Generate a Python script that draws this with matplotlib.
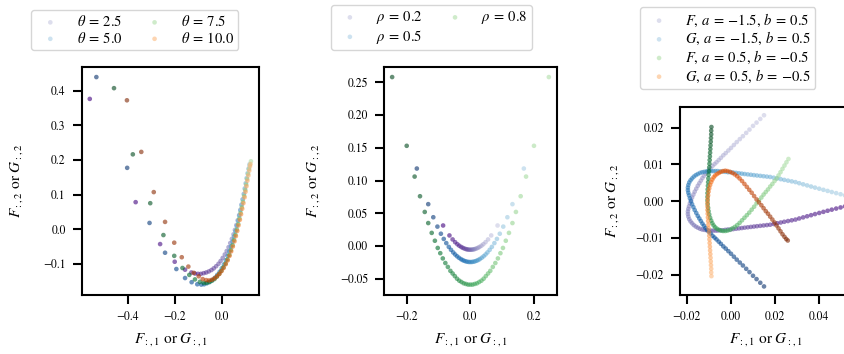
import numpy as np
import matplotlib
matplotlib.use("Agg")
import matplotlib.pyplot as plt

plt.rcParams.update({
    "font.family": "STIXGeneral",
    "mathtext.fontset": "stix",
    "axes.linewidth": 1.5,
    "xtick.major.width": 1.5,
    "ytick.major.width": 1.5,
    "xtick.major.size": 6.5,
    "ytick.major.size": 6.5,
    "xtick.major.pad": 5,
    "ytick.major.pad": 5,
    "xtick.labelsize": 8.5,
    "ytick.labelsize": 8.5,
    "axes.labelsize": 11,
    "legend.fontsize": 10.5,
})

# ---- panel 1: theta (points listed left -> right, dark -> light)
theta_labels = [r"$\theta\:=\:2.5$", r"$\theta\:=\:5.0$", r"$\theta\:=\:7.5$", r"$\theta\:=\:10.0$"]
th25_x = [-0.562, -0.367, -0.263, -0.201, -0.157, -0.130, -0.115, -0.102, -0.090, -0.078,
          -0.067, -0.056, -0.045, -0.035, -0.025, -0.015, -0.006, 0.003, 0.012, 0.020,
          0.028, 0.035, 0.042, 0.049, 0.055, 0.061, 0.067, 0.073, 0.078, 0.083,
          0.088, 0.093, 0.097, 0.101, 0.105, 0.109, 0.113, 0.116]
th25_y = [0.376, 0.078, -0.043, -0.094, -0.117, -0.125, -0.128, -0.129, -0.129, -0.127,
          -0.125, -0.122, -0.118, -0.113, -0.107, -0.100, -0.092, -0.083, -0.073, -0.063,
          -0.052, -0.040, -0.028, -0.015, -0.002, 0.012, 0.026, 0.041, 0.056, 0.071,
          0.086, 0.101, 0.116, 0.131, 0.146, 0.160, 0.173, 0.184]
th50_x = [-0.534, -0.403, -0.308, -0.242, -0.194, -0.157, -0.129, -0.105, -0.088, -0.076,
          -0.064, -0.052, -0.041, -0.030, -0.020, -0.010, -0.001, 0.008, 0.016, 0.024,
          0.031, 0.038, 0.045, 0.051, 0.057, 0.063, 0.068, 0.073, 0.078, 0.083,
          0.088, 0.093, 0.097, 0.101, 0.105, 0.109, 0.113, 0.117]
th50_y = [0.439, 0.177, 0.018, -0.068, -0.115, -0.141, -0.153, -0.159, -0.160, -0.159,
          -0.156, -0.152, -0.147, -0.140, -0.132, -0.123, -0.113, -0.102, -0.090, -0.077,
          -0.064, -0.050, -0.036, -0.021, -0.006, 0.009, 0.024, 0.039, 0.054, 0.070,
          0.086, 0.102, 0.118, 0.133, 0.148, 0.162, 0.175, 0.188]
th75_x = [-0.459, -0.379, -0.305, -0.249, -0.203, -0.168, -0.139, -0.115, -0.094, -0.078,
          -0.066, -0.054, -0.043, -0.032, -0.022, -0.012, -0.003, 0.006, 0.015, 0.023,
          0.031, 0.038, 0.045, 0.051, 0.057, 0.063, 0.069, 0.074, 0.079, 0.084,
          0.089, 0.094, 0.099, 0.103, 0.107, 0.111, 0.115, 0.119, 0.123]
th75_y = [0.407, 0.216, 0.075, -0.017, -0.077, -0.112, -0.132, -0.145, -0.152, -0.155,
          -0.155, -0.153, -0.149, -0.144, -0.137, -0.129, -0.120, -0.110, -0.099, -0.087,
          -0.074, -0.060, -0.046, -0.031, -0.016, -0.001, 0.015, 0.031, 0.047, 0.063,
          0.079, 0.096, 0.113, 0.129, 0.145, 0.160, 0.174, 0.186, 0.196]
th100_x = [-0.404, -0.343, -0.290, -0.242, -0.203, -0.171, -0.143, -0.120, -0.099, -0.082,
           -0.067, -0.055, -0.043, -0.032, -0.021, -0.011, -0.002, 0.007, 0.016, 0.024,
           0.032, 0.039, 0.046, 0.053, 0.059, 0.065, 0.070, 0.076, 0.081, 0.086,
           0.091, 0.096, 0.100, 0.104, 0.108, 0.112, 0.116, 0.119, 0.121]
th100_y = [0.372, 0.223, 0.107, 0.021, -0.039, -0.081, -0.108, -0.126, -0.136, -0.144,
           -0.147, -0.148, -0.146, -0.142, -0.136, -0.129, -0.121, -0.112, -0.101, -0.090,
           -0.077, -0.064, -0.050, -0.035, -0.020, -0.005, 0.011, 0.027, 0.043, 0.059,
           0.075, 0.092, 0.108, 0.124, 0.140, 0.155, 0.169, 0.181, 0.188]

# ---- panel 2: rho (left -> right, dark -> light)
rho_labels = [r"$\rho\:=\:0.2$", r"$\rho\:=\:0.5$", r"$\rho\:=\:0.8$"]
rho02_x = [-0.086, -0.066, -0.056, -0.048, -0.041, -0.035, -0.029, -0.024, -0.019, -0.014,
           -0.010, -0.006, -0.002, 0.002, 0.006, 0.010, 0.014, 0.019, 0.024, 0.029,
           0.035, 0.041, 0.048, 0.056, 0.066, 0.086]
rho02_y = [0.0313, 0.0161, 0.0100, 0.0058, 0.0027, 0.0004, -0.0015, -0.0028, -0.0039, -0.0047,
           -0.0052, -0.0055, -0.0057, -0.0057, -0.0055, -0.0052, -0.0047, -0.0039, -0.0028, -0.0015,
           0.0004, 0.0027, 0.0058, 0.0100, 0.0161, 0.0313]
rho05_x = [-0.169, -0.133, -0.117, -0.104, -0.093, -0.084, -0.076, -0.068, -0.061, -0.054,
           -0.048, -0.042, -0.036, -0.030, -0.025, -0.020, -0.015, -0.010, -0.005, 0.000,
           0.005, 0.010, 0.015, 0.020, 0.025, 0.030, 0.036, 0.042, 0.048, 0.054,
           0.061, 0.068, 0.076, 0.084, 0.093, 0.104, 0.117, 0.133, 0.169]
rho05_y = [0.1183, 0.0639, 0.0439, 0.0296, 0.0187, 0.0108, 0.0044, -0.0014, -0.0059, -0.0099,
           -0.0130, -0.0157, -0.0180, -0.0200, -0.0214, -0.0225, -0.0234, -0.0240, -0.0244, -0.0245,
           -0.0244, -0.0240, -0.0234, -0.0225, -0.0214, -0.0200, -0.0180, -0.0157, -0.0130, -0.0099,
           -0.0059, -0.0014, 0.0044, 0.0108, 0.0187, 0.0296, 0.0439, 0.0639, 0.1183]
rho08_x = [-0.247, -0.201, -0.176, -0.159, -0.144, -0.133, -0.122, -0.112, -0.103, -0.095,
           -0.087, -0.079, -0.071, -0.063, -0.056, -0.049, -0.042, -0.035, -0.028, -0.021,
           -0.014, -0.007, 0.000, 0.007, 0.014, 0.021, 0.028, 0.035, 0.042, 0.049,
           0.056, 0.063, 0.071, 0.079, 0.087, 0.095, 0.103, 0.112, 0.122, 0.133,
           0.144, 0.159, 0.176, 0.201, 0.248]
rho08_y = [0.258, 0.153, 0.106, 0.076, 0.052, 0.035, 0.020, 0.008, -0.003, -0.011,
           -0.019, -0.026, -0.032, -0.038, -0.042, -0.046, -0.050, -0.053, -0.055, -0.057,
           -0.058, -0.059, -0.059, -0.059, -0.058, -0.057, -0.055, -0.053, -0.050, -0.046,
           -0.042, -0.038, -0.032, -0.026, -0.019, -0.011, -0.003, 0.008, 0.020, 0.035,
           0.052, 0.076, 0.106, 0.153, 0.258]

# ---- panel 3: (a, b) curves (listed light -> dark)
ab_labels = [r"$F,\,a\:=\:-1.5,\,b\:=\:0.5$", r"$G,\,a\:=\:-1.5,\,b\:=\:0.5$",
             r"$F,\,a\:=\:0.5,\,b\:=\:-0.5$", r"$G,\,a\:=\:0.5,\,b\:=\:-0.5$"]
f1_x = ([0.0152, 0.0135, 0.0118, 0.0102, 0.0086, 0.0071, 0.0056, 0.0042, 0.0028, 0.0015,
         0.0002, -0.0010, -0.0022, -0.0033, -0.0044, -0.0054, -0.0064, -0.0073, -0.0082, -0.0091,
         -0.0099, -0.0107]
        + [-0.0114, -0.0121, -0.0128, -0.0135, -0.0142, -0.0149, -0.0156, -0.0163, -0.0169, -0.0175,
           -0.0180, -0.0185, -0.0189, -0.0192, -0.0194, -0.0194, -0.0192, -0.0188, -0.0182, -0.0175,
           -0.0167, -0.0158, -0.0149, -0.0139, -0.0129, -0.0119, -0.0109, -0.0099, -0.0089, -0.0079,
           -0.0069, -0.0059]
        + [-0.0048, -0.0036, -0.0024, -0.0012, 0.0000, 0.0012, 0.0025, 0.0038, 0.0051, 0.0064,
           0.0078, 0.0092, 0.0106, 0.0120, 0.0135, 0.0150, 0.0165, 0.0180, 0.0196, 0.0212,
           0.0228, 0.0244, 0.0261, 0.0278, 0.0295, 0.0312, 0.0330, 0.0348, 0.0366, 0.0384,
           0.0403, 0.0422, 0.0441, 0.0460, 0.0480, 0.0500, 0.0520, 0.0540, 0.0560])
f1_y = ([0.0234, 0.0224, 0.0214, 0.0205, 0.0195, 0.0186, 0.0177, 0.0169, 0.0161, 0.0153,
         0.0145, 0.0138, 0.0131, 0.0125, 0.0118, 0.0112, 0.0106, 0.0101, 0.0096, 0.0090,
         0.0085, 0.0080]
        + [0.0075, 0.0069, 0.0063, 0.0056, 0.0049, 0.0042, 0.0034, 0.0026, 0.0018, 0.0010,
           0.0002, -0.0006, -0.0014, -0.0021, -0.0028, -0.0035, -0.0042, -0.0049, -0.0055, -0.0060,
           -0.0065, -0.0069, -0.0072, -0.0075, -0.0077, -0.0078, -0.0079, -0.0080, -0.0080, -0.0080,
           -0.0080, -0.0080]
        + [-0.0079, -0.0079, -0.0078, -0.0077, -0.0077, -0.0076, -0.0075, -0.0074, -0.0073, -0.0072,
           -0.0071, -0.0070, -0.0069, -0.0068, -0.0067, -0.0066, -0.0065, -0.0064, -0.0062, -0.0060,
           -0.0058, -0.0056, -0.0054, -0.0052, -0.0050, -0.0047, -0.0044, -0.0041, -0.0038, -0.0035,
           -0.0032, -0.0029, -0.0026, -0.0023, -0.0020, -0.0017, -0.0014, -0.0011, -0.0008])
g1_x = ([0.0560, 0.0540, 0.0520, 0.0500, 0.0480, 0.0460, 0.0441, 0.0422, 0.0403, 0.0384,
         0.0366, 0.0348, 0.0330, 0.0312, 0.0295, 0.0278, 0.0261, 0.0244, 0.0228, 0.0212,
         0.0196, 0.0180, 0.0165, 0.0150, 0.0135, 0.0120, 0.0106, 0.0092, 0.0078, 0.0064,
         0.0051, 0.0038, 0.0025, 0.0012, 0.0000, -0.0012, -0.0024, -0.0036, -0.0048]
        + [-0.0059, -0.0069, -0.0079, -0.0089, -0.0099, -0.0109, -0.0119, -0.0129, -0.0139, -0.0149,
           -0.0158, -0.0167, -0.0175, -0.0182, -0.0188, -0.0192, -0.0194, -0.0194, -0.0192, -0.0189,
           -0.0185, -0.0180, -0.0175, -0.0169, -0.0163, -0.0156, -0.0149, -0.0142, -0.0135, -0.0128,
           -0.0121, -0.0114]
        + [-0.0107, -0.0099, -0.0091, -0.0082, -0.0073, -0.0064, -0.0054, -0.0044, -0.0033, -0.0022,
           -0.0010, 0.0002, 0.0015, 0.0028, 0.0042, 0.0056, 0.0071, 0.0086, 0.0102, 0.0118,
           0.0135, 0.0152])
g1_y = ([0.0010, 0.0013, 0.0016, 0.0019, 0.0022, 0.0025, 0.0028, 0.0031, 0.0034, 0.0037,
         0.0040, 0.0043, 0.0046, 0.0049, 0.0052, 0.0054, 0.0056, 0.0058, 0.0060, 0.0062,
         0.0064, 0.0066, 0.0067, 0.0068, 0.0069, 0.0070, 0.0071, 0.0072, 0.0073, 0.0074,
         0.0075, 0.0076, 0.0077, 0.0078, 0.0079, 0.0079, 0.0080, 0.0081, 0.0081]
        + [0.0082, 0.0082, 0.0082, 0.0082, 0.0081, 0.0081, 0.0080, 0.0079, 0.0077, 0.0074,
           0.0071, 0.0067, 0.0062, 0.0057, 0.0051, 0.0044, 0.0037, 0.0030, 0.0023, 0.0016,
           0.0008, 0.0000, -0.0008, -0.0016, -0.0024, -0.0032, -0.0040, -0.0047, -0.0054, -0.0061,
           -0.0067, -0.0073]
        + [-0.0078, -0.0083, -0.0088, -0.0094, -0.0099, -0.0104, -0.0110, -0.0116, -0.0123, -0.0129,
           -0.0136, -0.0143, -0.0151, -0.0159, -0.0167, -0.0175, -0.0184, -0.0193, -0.0203, -0.0212,
           -0.0222, -0.0232])
f2_x = [0.0263, 0.0254, 0.0245, 0.0236, 0.0227, 0.0218, 0.0209, 0.0200, 0.0190, 0.0180,
        0.0170, 0.0160, 0.0150, 0.0140, 0.0129, 0.0118, 0.0107, 0.0096, 0.0085, 0.0074,
        0.0063, 0.0052, 0.0041, 0.0030, 0.0019, 0.0008, -0.0003, -0.0014, -0.0024, -0.0034,
        -0.0044, -0.0053, -0.0062, -0.0070, -0.0077, -0.0083, -0.0088, -0.0093, -0.0097, -0.0100,
        -0.0102, -0.0104, -0.0105, -0.0105, -0.0105, -0.0104, -0.0103, -0.0102, -0.0101, -0.0100,
        -0.0098, -0.0097, -0.0096, -0.0095, -0.0094, -0.0093, -0.0092, -0.0091, -0.0090, -0.0089,
        -0.0088, -0.0088, -0.0087]
f2_y = [0.0115, 0.0106, 0.0097, 0.0088, 0.0079, 0.0070, 0.0062, 0.0055, 0.0047, 0.0040,
        0.0032, 0.0025, 0.0018, 0.0010, 0.0002, -0.0006, -0.0015, -0.0023, -0.0031, -0.0038,
        -0.0045, -0.0052, -0.0059, -0.0065, -0.0070, -0.0074, -0.0078, -0.0080, -0.0081, -0.0081,
        -0.0080, -0.0078, -0.0075, -0.0071, -0.0066, -0.0060, -0.0053, -0.0045, -0.0036, -0.0027,
        -0.0018, -0.0008, 0.0002, 0.0012, 0.0022, 0.0032, 0.0042, 0.0052, 0.0062, 0.0072,
        0.0082, 0.0092, 0.0102, 0.0112, 0.0122, 0.0132, 0.0142, 0.0152, 0.0162, 0.0172,
        0.0182, 0.0192, 0.0202]
g2_x = [-0.0087, -0.0088, -0.0088, -0.0089, -0.0090, -0.0091, -0.0092, -0.0093, -0.0094, -0.0095,
        -0.0096, -0.0097, -0.0098, -0.0100, -0.0101, -0.0102, -0.0103, -0.0104, -0.0105, -0.0105,
        -0.0105, -0.0104, -0.0102, -0.0100, -0.0097, -0.0093, -0.0088, -0.0083, -0.0077, -0.0070,
        -0.0062, -0.0053, -0.0044, -0.0034, -0.0024, -0.0014, -0.0003, 0.0008, 0.0019, 0.0030,
        0.0041, 0.0052, 0.0063, 0.0074, 0.0085, 0.0096, 0.0107, 0.0118, 0.0129, 0.0140,
        0.0150, 0.0160, 0.0170, 0.0180, 0.0190, 0.0200, 0.0209, 0.0218, 0.0227, 0.0236,
        0.0245, 0.0253, 0.0260]
g2_y = [-0.0204, -0.0194, -0.0184, -0.0174, -0.0164, -0.0154, -0.0144, -0.0134, -0.0124, -0.0114,
        -0.0104, -0.0094, -0.0084, -0.0074, -0.0064, -0.0054, -0.0044, -0.0034, -0.0024, -0.0014,
        -0.0004, 0.0006, 0.0016, 0.0026, 0.0035, 0.0044, 0.0052, 0.0059, 0.0065, 0.0070,
        0.0074, 0.0077, 0.0080, 0.0082, 0.0083, 0.0082, 0.0080, 0.0077, 0.0073, 0.0068,
        0.0062, 0.0055, 0.0047, 0.0039, 0.0031, 0.0023, 0.0014, 0.0005, -0.0003, -0.0011,
        -0.0019, -0.0027, -0.0034, -0.0042, -0.0050, -0.0058, -0.0066, -0.0074, -0.0082, -0.0090,
        -0.0097, -0.0103, -0.0107]

cmaps = ["Purples", "Blues", "Greens", "Oranges"]


def dots(ax, x, y, cmap, label):
    n = len(x)
    cols = plt.get_cmap(cmap)(np.linspace(0.33, 1.0, n))
    ax.scatter(x, y, c=cols, s=11, alpha=0.6, linewidths=0, label=label)


fig = plt.figure(figsize=(8.45, 3.54), dpi=100)
ax1 = fig.add_axes([0.0967, 0.1667, 0.2098, 0.6449])
ax2 = fig.add_axes([0.4548, 0.1667, 0.2040, 0.6449])
ax3 = fig.add_axes([0.8047, 0.1667, 0.2036, 0.5319])

theta_x = [th25_x, th50_x, th75_x, th100_x]
theta_y = [th25_y, th50_y, th75_y, th100_y]
for xs, ys, cm, lab in zip(theta_x, theta_y, cmaps, theta_labels):
    dots(ax1, xs[::-1], ys[::-1], cm, lab)

rho_x = [rho02_x, rho05_x, rho08_x]
rho_y = [rho02_y, rho05_y, rho08_y]
for xs, ys, cm, lab in zip(rho_x, rho_y, cmaps, rho_labels):
    dots(ax2, xs[::-1], ys[::-1], cm, lab)

ab_x = [f1_x, g1_x, f2_x, g2_x]
ab_y = [f1_y, g1_y, f2_y, g2_y]
for xs, ys, cm, lab in zip(ab_x, ab_y, cmaps, ab_labels):
    dots(ax3, xs, ys, cm, lab)

ax1.set_xticks([-0.4, -0.2, 0.0])
ax1.set_yticks([-0.1, 0.0, 0.1, 0.2, 0.3, 0.4])
ax2.set_xticks([-0.2, 0.0, 0.2])
ax2.set_yticks([-0.05, 0.0, 0.05, 0.10, 0.15, 0.20, 0.25])
ax3.set_xlim(-0.0230, 0.0552)
ax3.set_xticks([-0.02, 0.0, 0.02, 0.04])
ax3.set_yticks([-0.02, -0.01, 0.0, 0.01, 0.02])

ylab_x = [-0.320, -0.360, -0.343]
xlab_y = [-0.160, -0.160, -0.194]
for ax, yx, xy in zip((ax1, ax2, ax3), ylab_x, xlab_y):
    ax.set_xlabel(r"$F_{:,1}$ or $G_{:,1}$")
    ax.set_ylabel(r"$F_{:,2}$ or $G_{:,2}$")
    ax.yaxis.set_label_coords(yx, 0.5)
    ax.xaxis.set_label_coords(0.5, xy)

leg_kw = dict(loc="lower center", borderaxespad=0, borderpad=0.3, columnspacing=1.2)
ax1.legend(bbox_to_anchor=(0.30, 1.073), ncol=2, labelspacing=0.1, **leg_kw)
ax2.legend(bbox_to_anchor=(0.274, 1.073), ncol=2, labelspacing=0.1, **leg_kw)
ax3.legend(bbox_to_anchor=(0.278, 1.094), ncol=1, labelspacing=0.1, **leg_kw)

fig.savefig("out.png", dpi=100)
